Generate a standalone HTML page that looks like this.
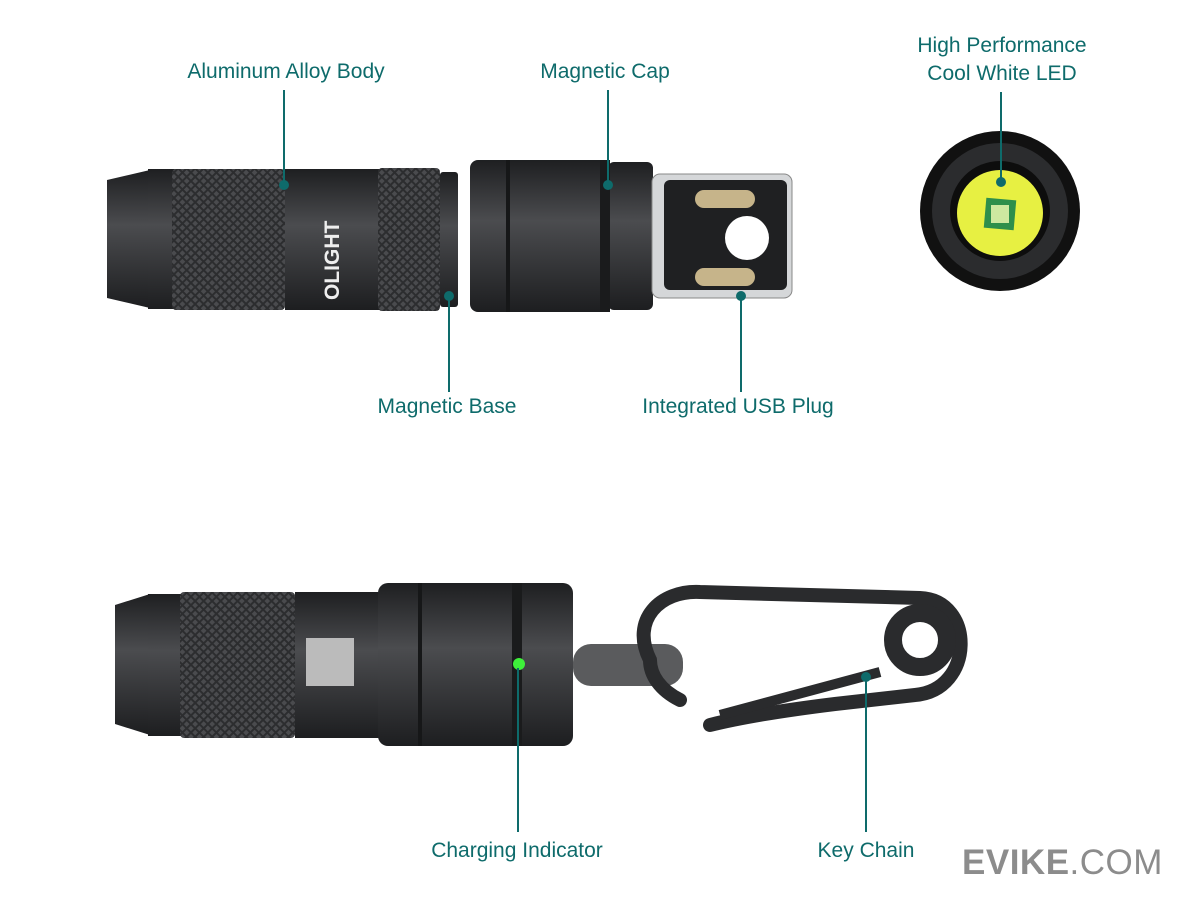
<!DOCTYPE html>
<html><head><meta charset="utf-8"><style>
body{margin:0;width:1200px;height:900px;background:#fff;overflow:hidden;position:relative;font-family:"Liberation Sans",sans-serif}
.l{position:absolute;color:#0e6b6b;font-size:21px;text-align:center;white-space:nowrap;transform:translateX(-50%);line-height:28px}
</style></head><body>
<svg width="1200" height="900" style="position:absolute;left:0;top:0">
<defs>
<pattern id="k" width="6" height="6" patternUnits="userSpaceOnUse" patternTransform="rotate(45)"><rect width="6" height="6" fill="#2c2d2f"/><rect width="4" height="4" fill="#4a4b4e"/></pattern>
<linearGradient id="m" x1="0" y1="0" x2="0" y2="1"><stop offset="0" stop-color="#1e1f21"/><stop offset=".4" stop-color="#4b4c4f"/><stop offset="1" stop-color="#1d1e20"/></linearGradient>
</defs>
<!-- top flashlight -->
<path d="M107 180 L150 170 L150 308 L107 298 Z" fill="url(#m)"/>
<rect x="148" y="169" width="30" height="140" fill="url(#m)"/>
<rect x="172" y="169" width="113" height="141" rx="4" fill="url(#k)"/>
<rect x="285" y="169" width="95" height="141" fill="url(#m)"/>
<text x="0" y="0" transform="translate(339,300) rotate(-90)" fill="#eee" font-size="21" font-weight="bold" font-family="Liberation Sans">OLIGHT</text>
<rect x="378" y="168" width="62" height="143" rx="4" fill="url(#k)"/>
<rect x="440" y="172" width="18" height="135" rx="3" fill="url(#m)"/>
<!-- cap -->
<rect x="470" y="160" width="140" height="152" rx="8" fill="url(#m)"/>
<rect x="608" y="162" width="45" height="148" rx="6" fill="url(#m)"/>
<rect x="506" y="160" width="4" height="152" fill="#161718"/>
<rect x="600" y="160" width="10" height="152" fill="#1a1b1c"/>
<!-- usb -->
<rect x="652" y="174" width="140" height="124" rx="8" fill="#d5d7d9" stroke="#888"/>
<rect x="664" y="180" width="123" height="110" rx="6" fill="#1f2022"/>
<rect x="695" y="190" width="60" height="18" rx="9" fill="#c6b48a"/>
<rect x="695" y="268" width="60" height="18" rx="9" fill="#c6b48a"/>
<circle cx="747" cy="238" r="22" fill="#fff"/>
<!-- led -->
<circle cx="1000" cy="211" r="80" fill="#111"/>
<circle cx="1000" cy="211" r="68" fill="#2b2c2e"/>
<circle cx="1000" cy="211" r="50" fill="#0d0d0d"/>
<circle cx="1000" cy="213" r="43" fill="#e7f042"/>
<rect x="985" y="199" width="30" height="30" fill="#2e8f4b" transform="rotate(5 1000 214)"/>
<rect x="991" y="205" width="18" height="18" fill="#cde8a0"/>
<!-- bottom flashlight -->
<path d="M115 605 L150 594 L150 735 L115 724 Z" fill="url(#m)"/>
<rect x="148" y="594" width="40" height="142" fill="url(#m)"/>
<rect x="180" y="592" width="115" height="146" rx="4" fill="url(#k)"/>
<rect x="295" y="592" width="90" height="146" fill="url(#m)"/>
<rect x="306" y="638" width="48" height="48" fill="#bbb"/>
<rect x="378" y="583" width="195" height="163" rx="10" fill="url(#m)"/>
<rect x="418" y="583" width="4" height="163" fill="#161718"/>
<rect x="512" y="583" width="10" height="163" fill="#1a1b1c"/>
<circle cx="519" cy="664" r="6" fill="#3ef03a"/>
<rect x="573" y="644" width="110" height="42" rx="18" fill="#5a5b5d"/>
<!-- carabiner -->
<path d="M650 660 C630 620 660 590 700 592 L920 598 C975 600 975 690 915 695 L835 704 C770 712 730 720 710 725 M680 700 C660 690 650 675 650 660" fill="none" stroke="#2a2b2d" stroke-width="14" stroke-linecap="round"/>
<circle cx="920" cy="640" r="27" fill="none" stroke="#2a2b2d" stroke-width="18"/>
<path d="M720 715 L880 672" stroke="#2a2b2d" stroke-width="10"/>
<!-- leader lines -->
<g stroke="#0e6b6b" stroke-width="2" fill="#0e6b6b">
<line x1="284" y1="90" x2="284" y2="185"/><circle cx="284" cy="185" r="4"/>
<line x1="608" y1="90" x2="608" y2="185"/><circle cx="608" cy="185" r="4"/>
<line x1="1001" y1="92" x2="1001" y2="182"/><circle cx="1001" cy="182" r="4"/>
<line x1="449" y1="296" x2="449" y2="392"/><circle cx="449" cy="296" r="4"/>
<line x1="741" y1="296" x2="741" y2="392"/><circle cx="741" cy="296" r="4"/>
<line x1="518" y1="668" x2="518" y2="832"/>
<line x1="866" y1="677" x2="866" y2="832"/><circle cx="866" cy="677" r="4"/>
</g>
</svg>
<div class="l" style="left:286px;top:58px">Aluminum Alloy Body</div>
<div class="l" style="left:605px;top:58px">Magnetic Cap</div>
<div class="l" style="left:1002px;top:32px">High Performance<br>Cool White LED</div>
<div class="l" style="left:447px;top:393px">Magnetic Base</div>
<div class="l" style="left:738px;top:393px">Integrated USB Plug</div>
<div class="l" style="left:517px;top:837px">Charging Indicator</div>
<div class="l" style="left:866px;top:837px">Key Chain</div>
<div style="position:absolute;left:962px;top:843px;font-size:35px;color:#8c8c8c;letter-spacing:0.5px"><b>EVIKE</b>.COM</div>
</body></html>
